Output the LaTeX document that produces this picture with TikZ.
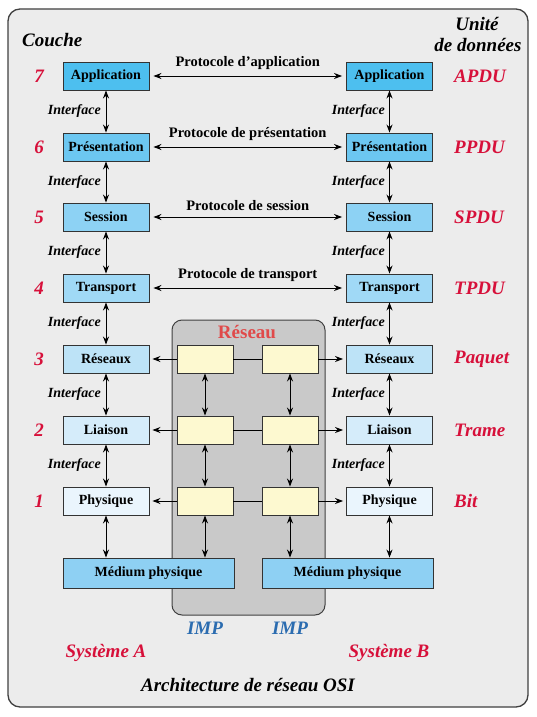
\documentclass[tikz,border=0pt]{standalone}
\usepackage{fontspec}
\setmainfont{Liberation Serif}
\usetikzlibrary{arrows.meta}
\definecolor{bgc}{HTML}{ECECEC}
\definecolor{framec}{HTML}{404040}
\definecolor{netc}{HTML}{C9C9C9}
\definecolor{boxline}{HTML}{333333}
\definecolor{c7}{HTML}{4DBFEF}
\definecolor{c6}{HTML}{6CC7F1}
\definecolor{c5}{HTML}{8DD2F4}
\definecolor{c4}{HTML}{A0D9F6}
\definecolor{c3}{HTML}{BDE3F7}
\definecolor{c2}{HTML}{D5ECFA}
\definecolor{c1}{HTML}{EAF5FD}
\definecolor{medc}{HTML}{8ED0F3}
\definecolor{yelc}{HTML}{FDF9D0}
\definecolor{unitred}{HTML}{D7103A}
\definecolor{impblue}{HTML}{2B6CB0}
\definecolor{netred}{HTML}{E04A4A}
\begin{document}
\begin{tikzpicture}[x=1pt,y=-1pt,
  layer/.style={draw=boxline,line width=0.9pt,minimum width=86pt,minimum height=28pt,inner sep=0pt,font=\fontsize{14}{16}\selectfont\bfseries},
  ybox/.style={draw=boxline,line width=0.9pt,fill=yelc,minimum width=56pt,minimum height=28pt,inner sep=0pt},
  medbox/.style={draw=boxline,line width=0.9pt,fill=medc,minimum width=171pt,minimum height=30pt,inner sep=0pt,font=\fontsize{14}{16}\selectfont\bfseries},
  dbl/.style={{Stealth[length=8pt,width=6pt]}-{Stealth[length=8pt,width=6pt]},line width=0.9pt},
  arr/.style={-{Stealth[length=8pt,width=6pt]},line width=0.9pt},
  iface/.style={font=\fontsize{14}{16}\selectfont\bfseries\itshape,anchor=east,inner sep=0pt},
  proto/.style={font=\fontsize{14.5}{16}\selectfont\bfseries,inner sep=0pt},
  num/.style={font=\fontsize{19}{21}\selectfont\bfseries\itshape,text=unitred,inner sep=0pt},
  unit/.style={font=\fontsize{19}{21}\selectfont\bfseries\itshape,text=unitred,anchor=west,inner sep=0pt},
  head/.style={font=\fontsize{19}{21}\selectfont\bfseries\itshape,inner sep=0pt},
  imp/.style={font=\fontsize{19}{21}\selectfont\bfseries\itshape,text=impblue,inner sep=0pt},
  sys/.style={font=\fontsize{19}{21}\selectfont\bfseries\itshape,text=unitred,inner sep=0pt}
]
\useasboundingbox (0,0) rectangle (537,717);
\draw[fill=bgc,draw=framec,line width=1.3pt,rounded corners=12pt] (8,9) rectangle (528,707);
\draw[fill=netc,draw=framec,line width=1pt,rounded corners=10pt] (172,320) rectangle (325,615);
\node[font=\fontsize{19}{21}\selectfont\bfseries,text=netred,inner sep=0pt] (nettitle) at (247,332) {Réseau};

% headers
\node[head,anchor=west] (couche) at (22,40) {Couche};
\node[head] (unite) at (477,24) {Unité};
\node[head] (donnees) at (478,45) {de données};

% left layers
\node[layer,fill=c7] (L7) at (106,76) {Application};
\node[layer,fill=c6] (L6) at (106,147) {Présentation};
\node[layer,fill=c5] (L5) at (106,217) {Session};
\node[layer,fill=c4] (L4) at (106,288) {Transport};
\node[layer,fill=c3] (L3) at (106,359) {Réseaux};
\node[layer,fill=c2] (L2) at (106,430) {Liaison};
\node[layer,fill=c1] (L1) at (106,501) {Physique};
% right layers
\node[layer,fill=c7] (R7) at (389.5,76) {Application};
\node[layer,fill=c6] (R6) at (389.5,147) {Présentation};
\node[layer,fill=c5] (R5) at (389.5,217) {Session};
\node[layer,fill=c4] (R4) at (389.5,288) {Transport};
\node[layer,fill=c3] (R3) at (389.5,359) {Réseaux};
\node[layer,fill=c2] (R2) at (389.5,430) {Liaison};
\node[layer,fill=c1] (R1) at (389.5,501) {Physique};
% network boxes
\node[ybox] (YA3) at (205,359) {};
\node[ybox] (YA2) at (205,430) {};
\node[ybox] (YA1) at (205,501) {};
\node[ybox] (YB3) at (290,359) {};
\node[ybox] (YB2) at (290,430) {};
\node[ybox] (YB1) at (290,501) {};
% media
\node[medbox] (MA) at (148.5,573) {Médium physique};
\node[medbox] (MB) at (347.5,573) {Médium physique};

% numbers
\node[num] (n7) at (39,76) {7};
\node[num] (n6) at (39,147) {6};
\node[num] (n5) at (39,217) {5};
\node[num] (n4) at (39,288) {4};
\node[num] (n3) at (39,359) {3};
\node[num] (n2) at (39,430) {2};
\node[num] (n1) at (39,501) {1};
% units
\node[unit] (u7) at (454,76) {APDU};
\node[unit] (u6) at (454,147) {PPDU};
\node[unit] (u5) at (454,217) {SPDU};
\node[unit] (u4) at (454,288) {TPDU};
\node[unit] (u3) at (454,359) {Paquet};
\node[unit] (u2) at (454,430) {Trame};
\node[unit] (u1) at (454,501) {Bit};

% vertical interface arrows
\foreach \a/\b in {7/6,6/5,5/4,4/3,3/2,2/1}{
  \draw[dbl] (L\a) -- (L\b);
  \draw[dbl] (R\a) -- (R\b);
}
\foreach \y/\n in {111.5/a,182/b,252.5/c,323.5/d,394.5/e,465.5/f}{
  \node[iface] (il\n) at (101,\y) {Interface};
  \node[iface] (ir\n) at (385,\y) {Interface};
}

% protocols
\draw[dbl,shorten <=4pt,shorten >=4pt] (L7) -- (R7) node[midway,above=6pt,proto] (p7) {Protocole d'application};
\draw[dbl,shorten <=4pt,shorten >=4pt] (L6) -- (R6) node[midway,above=6pt,proto] (p6) {Protocole de présentation};
\draw[dbl,shorten <=4pt,shorten >=4pt] (L5) -- (R5) node[midway,above=6pt,proto] (p5) {Protocole de session};
\draw[dbl,shorten <=4pt,shorten >=4pt] (L4) -- (R4) node[midway,above=6pt,proto] (p4) {Protocole de transport};

% network connections
\foreach \r in {3,2,1}{
  \draw[arr,shorten >=3pt] (YA\r) -- (L\r);
  \draw[line width=0.9pt] (YA\r) -- (YB\r);
  \draw[arr,shorten >=3pt] (YB\r) -- (R\r);
}
\draw[dbl] (YA3) -- (YA2);
\draw[dbl] (YA2) -- (YA1);
\draw[dbl] (YB3) -- (YB2);
\draw[dbl] (YB2) -- (YB1);
\draw[dbl] (YA1.south) -- (YA1.south |- MA.north);
\draw[dbl] (YB1.south) -- (YB1.south |- MB.north);
\draw[dbl] (L1.south) -- (L1.south |- MA.north);
\draw[dbl] (R1.south) -- (R1.south |- MB.north);

% bottom labels
\node[imp] (impa) at (205,628) {IMP};
\node[imp] (impb) at (290,628) {IMP};
\node[sys] (sysa) at (106,653) {Système A};
\node[sys] (sysb) at (389,653) {Système B};
\node[head] (arch) at (248,685) {Architecture de réseau OSI};
\end{tikzpicture}
\end{document}
